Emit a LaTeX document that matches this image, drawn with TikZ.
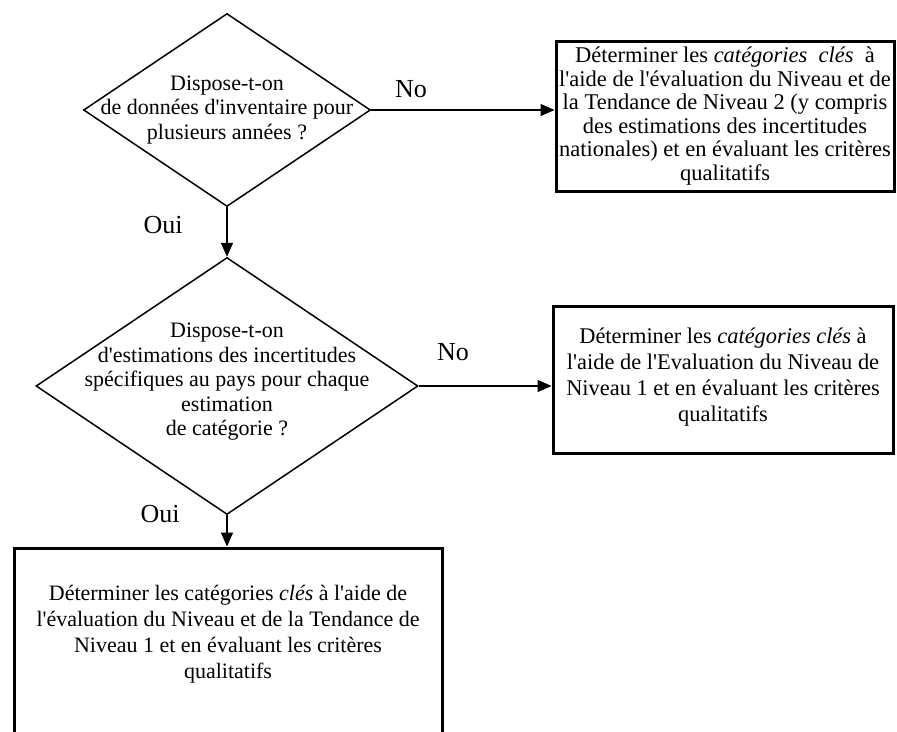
\documentclass[tikz,border=0pt]{standalone}
\usepackage{fontspec}
\setmainfont{Liberation Serif}
\usetikzlibrary{shapes.geometric,arrows.meta}
% straight apostrophe
\newcommand{\ap}{\textquotesingle}
\begin{document}
\begin{tikzpicture}[x=1pt,y=-1pt,
  question/.style={draw, line width=1.5pt, diamond, inner sep=0pt},
  qtext/.style={align=center, inner sep=0pt, font=\fontsize{22}{24.5}\selectfont},
  actionbox/.style={draw, line width=3pt, rectangle, inner sep=0pt, align=center},
  btext/.style={align=center, inner sep=0pt, font=\fontsize{22.4}{26}\selectfont},
  answer/.style={inner sep=0pt, font=\fontsize{26}{28}\selectfont},
  flow/.style={line width=1.5pt, -{Triangle[length=14pt,width=12pt]}}
]
\useasboundingbox (0,0) rectangle (897,731);
\clip (0,0) rectangle (897,731);

% decisions
\node[question, minimum width=287pt, minimum height=193pt] (d1) at (227,110) {};
\node[qtext] (t1) at (227,110) {Dispose-t-on\\ de données d\ap inventaire pour\\ plusieurs années ?};

\node[question, minimum width=382pt, minimum height=257pt] (d2) at (227,386) {};
\node[qtext] (t2) at (227,382) {Dispose-t-on\\ d\ap estimations des incertitudes\\ spécifiques au pays pour chaque\\ estimation\\ de catégorie ?};

% outcomes
\node[actionbox, minimum width=338pt, minimum height=150pt,
  font=\fontsize{22.5}{23.6}\selectfont] (b1) at (725,116)
  {Déterminer les \textit{catégories}~~\textit{clés}~~à\\
   l\ap aide de l\ap évaluation du Niveau et de\\
   la Tendance de Niveau 2 (y compris\\
   des estimations des incertitudes\\
   nationales) et en évaluant les critères\\
   qualitatifs};

\node[actionbox, minimum width=340pt, minimum height=147pt] (b2) at (723,379.5) {};
\node[btext] (t3) at (723,377) {Déterminer les \textit{catégories clés} à\\
   l\ap aide de l\ap Evaluation du Niveau de\\
   Niveau 1 et en évaluant les critères\\
   qualitatifs};

\node[actionbox, minimum width=428pt, minimum height=240pt, anchor=north] (b3) at (228,546.5) {};
\node[btext, font=\fontsize{22}{26}\selectfont] (t4) at (228,634) {Déterminer les catégories \textit{clés} à l\ap aide de\\
   l\ap évaluation du Niveau et de la Tendance de\\
   Niveau 1 et en évaluant les critères\\
   qualitatifs};

% connectors
\draw[flow] (d1.south) -- (d2.north);
\draw[flow] (d1.east) -- (d1.east -| b1.west);
\draw[flow] (d2.east) -- (d2.east -| b2.west);
\draw[flow] (d2.south) -- (d2.south |- b3.north);

% answers
\node[answer] (no1) at (411,89) {No};
\node[answer] (oui1) at (163,225) {Oui};
\node[answer] (no2) at (453,352) {No};
\node[answer] (oui2) at (160,514) {Oui};
\end{tikzpicture}
\end{document}
